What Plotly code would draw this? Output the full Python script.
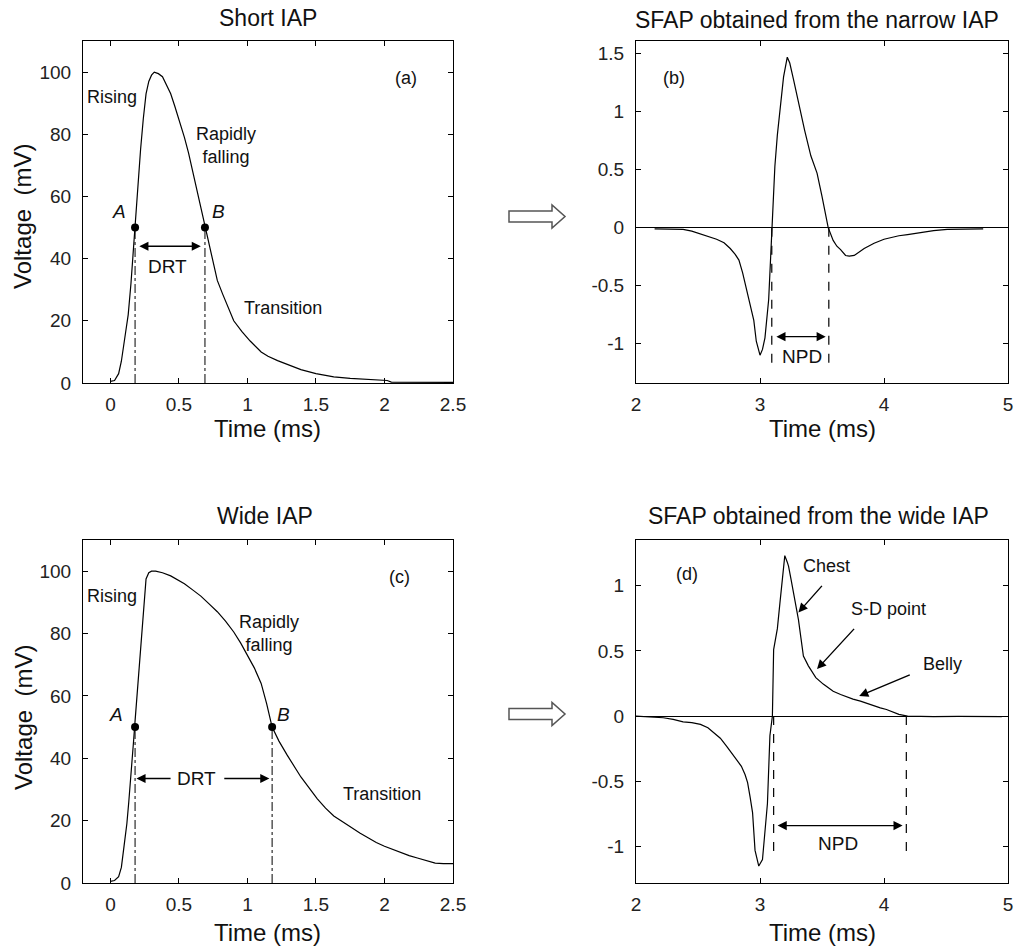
import plotly.graph_objects as go

# ---------------- data ----------------
t_short = [0, 0.03, 0.06, 0.08, 0.11, 0.13, 0.15, 0.17, 0.18, 0.2, 0.22, 0.24, 0.26, 0.28, 0.3, 0.32,
           0.35, 0.38, 0.41, 0.44, 0.47, 0.5, 0.54, 0.57, 0.6, 0.63, 0.66, 0.69, 0.72, 0.75, 0.78, 0.82,
           0.86, 0.9, 0.96, 1.02, 1.1, 1.15, 1.22, 1.3, 1.39, 1.5, 1.63, 1.75, 1.88, 2.02, 2.05, 2.2, 2.35, 2.5]
v_short = [0.5, 0.8, 3, 7, 16, 22, 32, 45, 50, 62, 75, 85, 93, 97, 99, 100,
           99.5, 98.5, 96, 93, 89, 85, 79, 74, 68, 62, 56, 50, 44, 38.5, 33, 28.5,
           24, 20, 16.5, 13.5, 10, 8.6, 7.2, 5.8, 4.3, 3, 2, 1.5, 1.1, 0.8, 0.3, 0.3, 0.2, 0.2]

t_wide = [0, 0.03, 0.06, 0.08, 0.1, 0.12, 0.134, 0.15, 0.17, 0.18, 0.2, 0.23, 0.25, 0.26, 0.28, 0.3,
          0.33, 0.38, 0.44, 0.5, 0.54, 0.6, 0.66, 0.72, 0.78, 0.84, 0.9, 0.95, 1.0, 1.05, 1.1, 1.14,
          1.18, 1.23, 1.29, 1.34, 1.39, 1.45, 1.51, 1.57, 1.63, 1.7, 1.76, 1.82, 1.88, 1.94, 2.0, 2.06,
          2.12, 2.18, 2.24, 2.3, 2.37, 2.43, 2.5]
v_wide = [0.5, 0.8, 2, 5, 12, 19, 26, 34, 46, 52, 64, 82, 94, 97.5, 99.5, 100,
          100, 99.5, 98.5, 97, 96, 94, 92, 89.5, 87, 84, 80.5, 77, 73, 69, 64, 57.5,
          50, 45.5, 41, 37.5, 34, 30.5, 27, 24, 21.5, 19.5, 17.7, 16, 14.5, 13, 11.8, 10.8,
          9.7, 8.8, 8, 7.2, 6.4, 6.2, 6.2]

t_sfap_narrow = [2.15, 2.38, 2.45, 2.51, 2.58, 2.65, 2.71, 2.76, 2.8, 2.83, 2.86, 2.9, 2.93, 2.95, 2.97,
                 3.0, 3.02, 3.04, 3.07, 3.09, 3.1, 3.12, 3.14, 3.16, 3.19, 3.22, 3.24, 3.27, 3.3, 3.33,
                 3.36, 3.41, 3.46, 3.5, 3.55, 3.59, 3.62, 3.65, 3.69, 3.72, 3.76, 3.84, 3.92, 4.0, 4.05,
                 4.12, 4.19, 4.3, 4.4, 4.51, 4.8]
v_sfap_narrow = [-0.01, -0.015, -0.03, -0.05, -0.07, -0.1, -0.13, -0.18, -0.23, -0.28, -0.39, -0.57, -0.7,
                 -0.8, -0.98, -1.1, -1.05, -0.95, -0.62, -0.1, 0.1, 0.53, 0.8, 1.01, 1.3, 1.47, 1.42, 1.28,
                 1.13, 1.0, 0.84, 0.62, 0.47, 0.27, 0.0, -0.11, -0.16, -0.19, -0.24, -0.245, -0.24, -0.18,
                 -0.135, -0.1, -0.085, -0.07, -0.06, -0.04, -0.025, -0.015, -0.01]

t_sfap_wide = [2.0, 2.22, 2.3, 2.38, 2.45, 2.52, 2.58, 2.63, 2.68, 2.73, 2.77, 2.81, 2.85, 2.88, 2.9, 2.92,
               2.94, 2.96, 2.99, 3.02, 3.04, 3.06, 3.08, 3.1, 3.11, 3.13, 3.14, 3.16, 3.18, 3.2, 3.22, 3.23,
               3.25, 3.27, 3.29, 3.31, 3.33, 3.35, 3.39, 3.45, 3.51, 3.59, 3.65, 3.7, 3.75, 3.81, 3.87,
               3.92, 3.97, 4.02, 4.07, 4.12, 4.19, 4.4, 4.6, 4.95]
v_sfap_wide = [0.0, -0.013, -0.025, -0.044, -0.05, -0.064, -0.09, -0.13, -0.17, -0.23, -0.28, -0.33, -0.385,
               -0.45, -0.51, -0.62, -0.74, -1.03, -1.15, -1.1, -0.9, -0.67, -0.15, 0.0, 0.51, 0.62, 0.67,
               0.86, 1.05, 1.23, 1.18, 1.15, 1.05, 0.95, 0.85, 0.74, 0.6, 0.46, 0.385, 0.295, 0.245, 0.19,
               0.165, 0.146, 0.13, 0.115, 0.095, 0.077, 0.063, 0.05, 0.03, 0.013, 0.0, -0.005, -0.003, -0.005]

# marker points (A, B) and measurement limits
ab_short_t = [0.18, 0.69]
ab_wide_t = [0.18, 1.18]
ab_level = 50
npd_narrow_t = [3.095, 3.555]
npd_wide_t = [3.11, 4.18]

x_iap_ticks = [0, 0.5, 1, 1.5, 2, 2.5]
x_iap_labels = ["0", "0.5", "1", "1.5", "2", "2.5"]
y_iap_ticks = [0, 20, 40, 60, 80, 100]
x_sfap_ticks = [2, 3, 4, 5]
y_b_ticks = [-1, -0.5, 0, 0.5, 1, 1.5]
y_b_labels = ["-1", "-0.5", "0", "0.5", "1", "1.5"]
y_d_ticks = [-1, -0.5, 0, 0.5, 1]
y_d_labels = ["-1", "-0.5", "0", "0.5", "1"]

titles = ["Short IAP", "SFAP obtained from the narrow IAP", "Wide IAP", "SFAP obtained from the wide IAP"]

# ---------------- figure ----------------
W, H = 1014, 947
FONT = "Liberation Sans, Arial, sans-serif"
def px(x):
    return x / W
def py(y):
    return 1 - y / H

fig = go.Figure()
line = dict(color="black", width=1.2)
fig.add_trace(go.Scatter(x=t_short, y=v_short, mode="lines", line=line, xaxis="x", yaxis="y"))
fig.add_trace(go.Scatter(x=t_sfap_narrow, y=v_sfap_narrow, mode="lines", line=line, xaxis="x2", yaxis="y2"))
fig.add_trace(go.Scatter(x=t_wide, y=v_wide, mode="lines", line=line, xaxis="x3", yaxis="y3"))
fig.add_trace(go.Scatter(x=t_sfap_wide, y=v_sfap_wide, mode="lines", line=line, xaxis="x4", yaxis="y4"))
fig.add_trace(go.Scatter(x=ab_short_t, y=[ab_level] * 2, mode="markers",
                         marker=dict(color="black", size=8), xaxis="x", yaxis="y"))
fig.add_trace(go.Scatter(x=ab_wide_t, y=[ab_level] * 2, mode="markers",
                         marker=dict(color="black", size=8), xaxis="x3", yaxis="y3"))

ax_common = dict(showline=True, linecolor="black", linewidth=1, mirror="ticks", ticks="inside",
                 ticklen=5, tickcolor="black", showgrid=False, zeroline=False,
                 tickfont=dict(family=FONT, size=19, color="#222222"))

dom_top = [py(383), py(41)]
dom_bot = [py(883), py(540)]
dom_left = [px(83), px(453)]
dom_right = [px(636), px(1008)]

fig.update_layout(
    width=W, height=H, margin=dict(l=0, r=0, t=0, b=0, autoexpand=False),
    paper_bgcolor="white", plot_bgcolor="white", showlegend=False,
    xaxis=dict(ax_common, domain=dom_left, anchor="y", range=[-0.2, 2.5], tickvals=x_iap_ticks,
               ticktext=x_iap_labels, ticklabelstandoff=4),
    yaxis=dict(ax_common, domain=dom_top, anchor="x", range=[0, 110], tickvals=y_iap_ticks,
               ticklabelstandoff=7),
    xaxis2=dict(ax_common, domain=dom_right, anchor="y2", range=[2, 5], tickvals=x_sfap_ticks,
                ticklabelstandoff=4),
    yaxis2=dict(ax_common, domain=dom_top, anchor="x2", range=[-1.34, 1.61], tickvals=y_b_ticks,
                ticktext=y_b_labels, ticklabelstandoff=7,
                zeroline=True, zerolinecolor="black", zerolinewidth=1.2),
    xaxis3=dict(ax_common, domain=dom_left, anchor="y3", range=[-0.2, 2.5], tickvals=x_iap_ticks,
                ticktext=x_iap_labels, ticklabelstandoff=4),
    yaxis3=dict(ax_common, domain=dom_bot, anchor="x3", range=[0, 110], tickvals=y_iap_ticks,
                ticklabelstandoff=7),
    xaxis4=dict(ax_common, domain=dom_right, anchor="y4", range=[2, 5], tickvals=x_sfap_ticks,
                ticklabelstandoff=4),
    yaxis4=dict(ax_common, domain=dom_bot, anchor="x4", range=[-1.28, 1.35], tickvals=y_d_ticks,
                ticktext=y_d_labels, ticklabelstandoff=7,
                zeroline=True, zerolinecolor="black", zerolinewidth=1.2),
)

shapes = []
# dash-dot drop lines at A and B
for t in ab_short_t:
    shapes.append(dict(type="line", xref="x", yref="y", x0=t, x1=t, y0=0, y1=ab_level,
                       line=dict(color="black", width=1, dash="dashdot")))
for t in ab_wide_t:
    shapes.append(dict(type="line", xref="x3", yref="y3", x0=t, x1=t, y0=0, y1=ab_level,
                       line=dict(color="black", width=1, dash="dashdot")))
# dashed NPD lines
for t, y1 in zip(npd_narrow_t, [-1.17, -1.17]):
    shapes.append(dict(type="line", xref="x2", yref="y2", x0=t, x1=t, y0=0, y1=y1,
                       line=dict(color="black", width=1.2, dash="dash")))
for t, y1 in zip(npd_wide_t, [-1.06, -1.08]):
    shapes.append(dict(type="line", xref="x4", yref="y4", x0=t, x1=t, y0=0, y1=y1,
                       line=dict(color="black", width=1.2, dash="dash")))

# hollow arrows between panels
def hollow_arrow(cy):
    pts = [(509, cy - 5.5), (552, cy - 5.5), (552, cy - 11.5), (565, cy), (552, cy + 11.5),
           (552, cy + 5.5), (509, cy + 5.5)]
    path = "M " + " L ".join(f"{px(x):.5f},{py(y):.5f}" for x, y in pts) + " Z"
    return dict(type="path", xref="paper", yref="paper", path=path,
                line=dict(color="#555555", width=1.5), fillcolor="white")
shapes.append(hollow_arrow(216.5))
shapes.append(hollow_arrow(714))
fig.update_layout(shapes=shapes)

ann = []
def text(x, y, s, xr, yr, size=18, italic=False, xanchor="center"):
    ann.append(dict(x=x, y=y, xref=xr, yref=yr, text=(f"<i>{s}</i>" if italic else s), showarrow=False,
                    xanchor=xanchor, yanchor="middle",
                    font=dict(family=FONT, size=size, color="#111111")))

def arrow(x_tip, y_tip, x_tail, y_tail, xr, yr, both=False):
    ann.append(dict(x=x_tip, y=y_tip, ax=x_tail, ay=y_tail, xref=xr, yref=yr, axref=xr, ayref=yr,
                    text="", showarrow=True, arrowhead=2, arrowsize=1.3, arrowwidth=1.4,
                    arrowside="end+start" if both else "end", arrowcolor="black",
                    standoff=0, startstandoff=0, startarrowhead=2, startarrowsize=1.3))

# titles
text(px(268), py(18), titles[0], "paper", "paper", size=23)
text(px(817), py(20), titles[1], "paper", "paper", size=23)
text(px(265), py(516), titles[2], "paper", "paper", size=23)
text(px(818), py(516), titles[3], "paper", "paper", size=23)
# axis titles
for cx, cy in [(267, 429), (822, 429), (267, 932), (822, 932)]:
    text(px(cx), py(cy), "Time\u00a0(ms)", "paper", "paper", size=24)
for cy in [217, 718]:
    ann.append(dict(x=px(23), y=py(cy), xref="paper", yref="paper", text="Voltage\u00a0\u00a0(mV)",
                    showarrow=False, textangle=-90, xanchor="center", yanchor="middle",
                    font=dict(family=FONT, size=24, color="#111111")))

# panel (a)
text(0.01, 92, "Rising", "x", "y")
text(0.84, 76.5, "Rapidly<br>falling", "x", "y")
text(1.26, 24, "Transition", "x", "y")
text(2.16, 98, "(a)", "x", "y")
text(0.06, 55, "A", "x", "y", size=19, italic=True)
text(0.79, 55, "B", "x", "y", size=19, italic=True)
arrow(0.66, 44, 0.2, 44, "x", "y", both=True)
text(0.42, 37.5, "DRT", "x", "y", size=19)

# panel (b)
text(2.31, 1.29, "(b)", "x2", "y2")
arrow(3.53, -0.94, 3.12, -0.94, "x2", "y2", both=True)
text(3.335, -1.11, "NPD", "x2", "y2", size=19)

# panel (c)
text(0.01, 92, "Rising", "x3", "y3")
text(1.16, 80, "Rapidly<br>falling", "x3", "y3")
text(1.98, 28.5, "Transition", "x3", "y3")
text(2.11, 98, "(c)", "x3", "y3")
text(0.04, 54, "A", "x3", "y3", size=19, italic=True)
text(1.26, 54, "B", "x3", "y3", size=19, italic=True)
text(0.63, 33.5, "DRT", "x3", "y3", size=19)
arrow(0.19, 33.5, 0.45, 33.5, "x3", "y3")
arrow(1.16, 33.5, 0.82, 33.5, "x3", "y3")

# panel (d)
text(2.41, 1.09, "(d)", "x4", "y4")
text(3.54, 1.15, "Chest", "x4", "y4")
arrow(3.31, 0.795, 3.51, 1.01, "x4", "y4")
text(4.04, 0.82, "S-D point", "x4", "y4")
arrow(3.46, 0.36, 3.77, 0.68, "x4", "y4")
text(4.47, 0.4, "Belly", "x4", "y4")
arrow(3.8, 0.154, 4.22, 0.32, "x4", "y4")
arrow(4.15, -0.84, 3.13, -0.84, "x4", "y4", both=True)
text(3.63, -0.98, "NPD", "x4", "y4", size=19)

fig.update_layout(annotations=ann)
fig.write_html("out.html", config={"displayModeBar": False},
               post_script="document.body.style.margin='0';document.body.style.overflow='hidden';")
